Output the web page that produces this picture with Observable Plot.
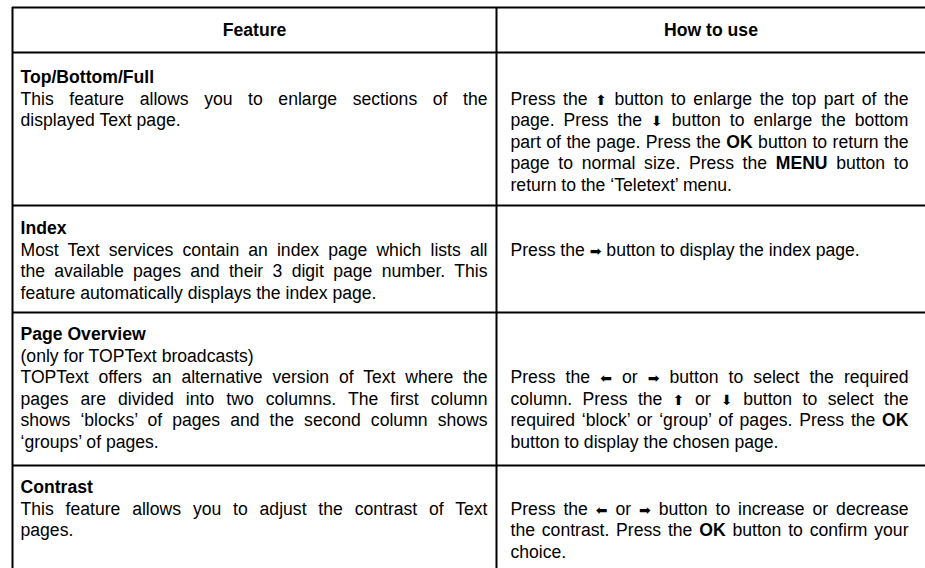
<!DOCTYPE html>
<html><head><meta charset="utf-8">
<script src="https://cdn.jsdelivr.net/npm/d3@7"></script>
<script src="https://cdn.jsdelivr.net/npm/@observablehq/plot@0.6"></script>
<style>html,body{margin:0;padding:0;background:#fff}svg{display:block}</style>
</head><body><div id="chart"></div>
<script>
// ---------- data ----------
const headers = ["Feature", "How to use"];
const featureTitles = ["Top/Bottom/Full", "Index", "Page Overview", "Contrast"];
const featureNotes = ["", "", "(only for TOPText broadcasts)", ""];
const featureLines = [
  ["This feature allows you to enlarge sections of the", "displayed Text page."],
  ["Most Text services contain an index page which lists all", "the available pages and their 3 digit page number. This", "feature automatically displays the index page."],
  ["TOPText offers an alternative version of Text where the", "pages are divided into two columns. The first column", "shows \u2018blocks\u2019 of pages and the second column shows", "\u2018groups\u2019 of pages."],
  ["This feature allows you to adjust the contrast of Text", "pages."]
];
const usageLines = [
  ["Press the {up} button to enlarge the top part of the", "page. Press the {down} button to enlarge the bottom", "part of the page. Press the **OK** button to return the", "page to normal size. Press the **MENU** button to", "return to the \u2018Teletext\u2019 menu."],
  ["Press the {right} button to display the index page."],
  ["Press the {left} or {right} button to select the required", "column. Press the {up} or {down} button to select the", "required \u2018block\u2019 or \u2018group\u2019 of pages. Press the **OK**", "button to display the chosen page."],
  ["Press the {left} or {right} button to increase or decrease", "the contrast. Press the **OK** button to confirm your", "choice."]
];
const arrowGlyphs = {up: "\u2B06", down: "\u2B07", left: "\u2B05", right: "\u27A1"};

// ---------- layout ----------
const W = 925, H = 568;
const FONT = "'Liberation Sans', Arial, Helvetica, sans-serif";
const FS = 17.6, LH = 21.5;
const tableLeft = 12, divider = 496, tableRight = 960;
const tableTop = 7, headerBottom = 52, tableBottom = 600;
const rowBottoms = [205, 312, 465];
const rowFirst = [77, 228, 334, 487];
const headerY = 30;
const textLeft = [20, 510], textRight = [487, 908];

const hLines = [tableTop, headerBottom, ...rowBottoms];
const vLines = [tableLeft, divider];

const headerCells = headers.map((h, i) => ({
  text: h, y: headerY,
  x: i === 0 ? (tableLeft + divider) / 2 : (divider + W) / 2
}));

const titleCells = [], bodyCells = [];
featureTitles.forEach((t, r) => {
  titleCells.push({text: t, x: textLeft[0], y: rowFirst[r]});
  let slot = 1;
  if (featureNotes[r]) {
    bodyCells.push({text: featureNotes[r], x: textLeft[0], y: rowFirst[r] + LH * slot, justify: false, col: 0});
    slot++;
  }
  const startSlot = slot;
  featureLines[r].forEach((l, k) => {
    bodyCells.push({text: l, x: textLeft[0], y: rowFirst[r] + LH * slot, justify: k < featureLines[r].length - 1, col: 0});
    slot++;
  });
  usageLines[r].forEach((l, k) => {
    bodyCells.push({text: l, x: textLeft[1], y: rowFirst[r] + LH * (startSlot + k), justify: k < usageLines[r].length - 1, col: 1});
  });
});

const svg = Plot.plot({
  width: W, height: H,
  marginTop: 0, marginRight: 0, marginBottom: 0, marginLeft: 0,
  x: {domain: [0, W], range: [0, W], axis: null},
  y: {domain: [0, H], range: [0, H], axis: null},
  style: {fontFamily: FONT, background: "white", color: "black", overflow: "hidden"},
  marks: [
    Plot.ruleY(hLines, {y: d => d, x1: tableLeft, x2: tableRight, stroke: "black", strokeWidth: 2}),
    Plot.ruleX(vLines, {x: d => d, y1: tableTop, y2: tableBottom, stroke: "black", strokeWidth: 2}),
    Plot.text(headerCells, {x: "x", y: "y", text: "text", textAnchor: "middle", fontWeight: "bold", fontSize: FS, fill: "black"}),
    Plot.text(titleCells, {x: "x", y: "y", text: "text", textAnchor: "start", fontWeight: "bold", fontSize: FS, fill: "black"}),
    Plot.text(bodyCells, {x: "x", y: "y", text: "text", textAnchor: "start", fontSize: FS, fill: "black"})
  ]
});
document.getElementById("chart").append(svg);

// inline bold runs, arrow glyphs and justification
const ns = "http://www.w3.org/2000/svg";
const textGroups = svg.querySelectorAll('g[aria-label="text"]');
const bodyGroup = textGroups[textGroups.length - 1];
const els = bodyGroup.querySelectorAll("text");
els.forEach((el, i) => {
  const d = bodyCells[i];
  if (!d) return;
  el.textContent = "";
  d.text.split(/(\*\*[^*]+\*\*|\{(?:up|down|left|right)\})/).forEach(seg => {
    if (!seg) return;
    const ts = document.createElementNS(ns, "tspan");
    if (seg.startsWith("**")) {
      ts.textContent = seg.slice(2, -2);
      ts.setAttribute("font-weight", "bold");
    } else if (seg.startsWith("{")) {
      ts.textContent = arrowGlyphs[seg.slice(1, -1)];
      ts.setAttribute("font-family", "'DejaVu Sans'");
      ts.setAttribute("font-size", "14");
    } else {
      ts.textContent = seg;
    }
    el.appendChild(ts);
  });
  if (d.justify) {
    const natural = el.getComputedTextLength();
    const spaces = (el.textContent.match(/ /g) || []).length;
    const target = textRight[d.col] - textLeft[d.col];
    if (spaces > 0) el.style.wordSpacing = ((target - natural) / spaces) + "px";
  }
});
</script></body></html>
